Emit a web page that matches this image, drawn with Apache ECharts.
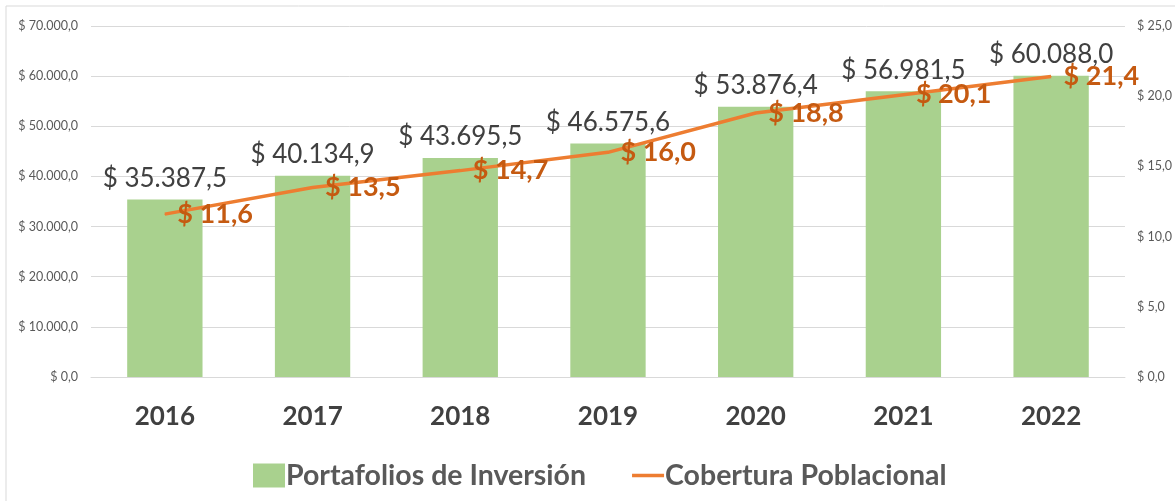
<!DOCTYPE html>
<html>
<head>
<meta charset="utf-8">
<script src="https://cdn.jsdelivr.net/npm/echarts@6/dist/echarts.min.js"></script>
<style>
  html, body { margin: 0; padding: 0; background: #fff; }
  #chart { width: 1175px; height: 501px; }
</style>
</head>
<body>
<div id="chart"></div>
<script>
// datos
var years = ['2016', '2017', '2018', '2019', '2020', '2021', '2022'];
var portafolios = [35387.5, 40134.9, 43695.5, 46575.6, 53876.4, 56981.5, 60088.0];
var cobertura = [11.6, 13.5, 14.7, 16.0, 18.8, 20.1, 21.4];

var FONT = 'Lato';

function fmt(v, dec) {
  var parts = v.toFixed(dec).split('.');
  var ent = parts[0].replace(/\B(?=(\d{3})+(?!\d))/g, '.');
  return '$ ' + ent + ',' + parts[1];
}

var myChart = echarts.init(document.getElementById('chart'));
myChart.setOption({
  backgroundColor: '#ffffff',
  animation: false,
  graphic: [{
    type: 'rect',
    shape: {x: 6, y: 6, width: 1200, height: 540},
    style: {fill: 'none', stroke: '#d9d9d9', lineWidth: 1},
    silent: true
  }],
  grid: {left: 91, right: 47, top: 26, bottom: 124},
  legend: {
    left: 248,
    top: 456,
    itemWidth: 32,
    itemHeight: 24,
    itemGap: 46,
    textStyle: {fontFamily: FONT, fontSize: 28.5, fontWeight: 'bold', color: '#595959', padding: [0, 0, 0, -4]},
    data: [
      {name: 'Portafolios de Inversión', icon: 'rect'},
      {name: 'Cobertura Poblacional', icon: 'path://M0,0H10V1.1H0Z'}
    ]
  },
  xAxis: {
    type: 'category',
    data: years,
    axisLine: {lineStyle: {color: '#d9d9d9'}},
    axisTick: {show: false},
    axisLabel: {fontFamily: FONT, fontSize: 26, fontWeight: 'bold', color: '#404040', margin: 27}
  },
  yAxis: [{
    type: 'value',
    min: 0,
    max: 70000,
    interval: 10000,
    axisLine: {show: false},
    axisTick: {show: false},
    splitLine: {lineStyle: {color: '#d9d9d9'}},
    axisLabel: {fontFamily: FONT, fontSize: 12.5, color: '#595959', margin: 13,
      formatter: function (v) { return fmt(v, 1); }}
  }, {
    type: 'value',
    min: 0,
    max: 25,
    interval: 5,
    axisLine: {show: false},
    axisTick: {show: false},
    splitLine: {show: false},
    axisLabel: {fontFamily: FONT, fontSize: 12.5, color: '#595959', margin: 12,
      formatter: function (v) { return fmt(v, 1); }}
  }],
  series: [{
    name: 'Portafolios de Inversión',
    type: 'bar',
    data: portafolios,
    barWidth: '51%',
    itemStyle: {color: '#a9d18e'},
    label: {
      show: true,
      position: 'top',
      distance: 8,
      fontFamily: FONT,
      fontSize: 26,
      color: '#404040',
      formatter: function (p) { return fmt(p.value, 1); }
    }
  }, {
    name: 'Cobertura Poblacional',
    type: 'line',
    yAxisIndex: 1,
    data: cobertura,
    symbol: 'circle',
    symbolSize: 1,
    itemStyle: {color: '#ed7d31'},
    lineStyle: {color: '#ed7d31', width: 3.5},
    label: {
      show: true,
      position: 'right',
      distance: 12,
      fontFamily: FONT,
      fontSize: 27,
      fontWeight: 'bold',
      color: '#c55a11',
      formatter: function (p) { return fmt(p.value, 1); }
    }
  }]
});
</script>
</body>
</html>
